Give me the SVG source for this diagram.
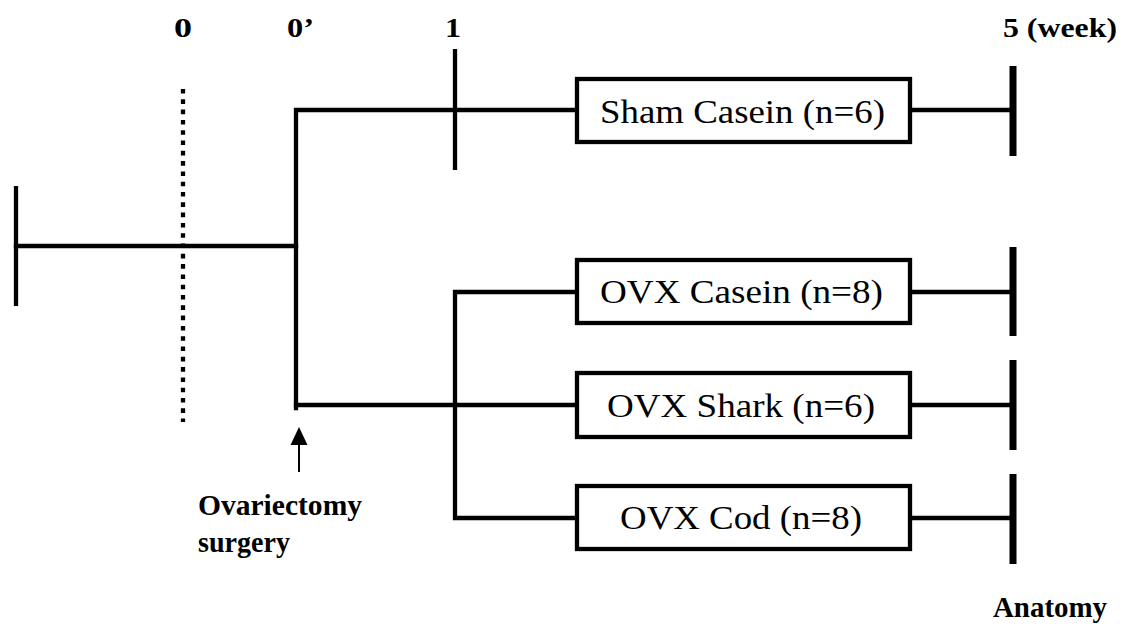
<svg xmlns="http://www.w3.org/2000/svg" width="1126" height="629" viewBox="0 0 1126 629">
  <style>
    .ln { fill: none; stroke: #000; stroke-width: 4.3; stroke-linecap: square; }
    .tick { fill: none; stroke: #000; stroke-width: 4.3; }
    .end { fill: none; stroke: #000; stroke-width: 7; }
    .dot { fill: none; stroke: #000; stroke-width: 4.3; stroke-dasharray: 4.6 5.7; }
    .box { fill: #fff; stroke: #000; stroke-width: 4.3; }
    text { font-family: 'Liberation Serif', 'Times New Roman', Tinos, 'Nimbus Roman', 'DejaVu Serif', serif; fill: #000; }
    .lbl { font-size: 34px; }
    .hd { font-size: 27px; font-weight: bold; }
    .note { font-size: 29px; font-weight: bold; }
  </style>
  <rect width="1126" height="629" fill="#fff"/>

  <!-- time axis labels -->
  <g id="axis-labels">
    <text class="hd" x="174" y="37" textLength="18" lengthAdjust="spacingAndGlyphs">0</text>
    <text class="hd" x="287" y="37" textLength="27" lengthAdjust="spacingAndGlyphs">0’</text>
    <text class="hd" x="445" y="37" textLength="16" lengthAdjust="spacingAndGlyphs">1</text>
    <text class="hd" x="1003" y="37" textLength="114" lengthAdjust="spacingAndGlyphs">5 (week)</text>
  </g>

  <!-- time markers -->
  <g id="markers">
    <line class="tick" x1="16" y1="186" x2="16" y2="306"/>
    <line class="dot" x1="183" y1="89" x2="183" y2="422"/>
    <line class="tick" x1="455" y1="49" x2="455" y2="170"/>
    <line class="end" x1="1013" y1="66" x2="1013" y2="156"/>
    <line class="end" x1="1013" y1="247" x2="1013" y2="336"/>
    <line class="end" x1="1013" y1="360" x2="1013" y2="450"/>
    <line class="end" x1="1013" y1="474" x2="1013" y2="564"/>
  </g>

  <!-- connectors -->
  <g id="connectors">
    <line class="ln" x1="16" y1="246" x2="296" y2="246"/>
    <path class="ln" d="M577,110 H296 V408"/>
    <line class="ln" x1="296" y1="405" x2="577" y2="405"/>
    <path class="ln" d="M577,292 H455 V518 H577"/>
    <line class="ln" x1="910" y1="110" x2="1013" y2="110"/>
    <line class="ln" x1="910" y1="292" x2="1013" y2="292"/>
    <line class="ln" x1="910" y1="405" x2="1013" y2="405"/>
    <line class="ln" x1="910" y1="518" x2="1013" y2="518"/>
  </g>

  <!-- group boxes -->
  <g id="sham-casein">
    <rect class="box" x="577" y="79" width="333" height="63"/>
    <text class="lbl" x="600" y="123" textLength="285" lengthAdjust="spacingAndGlyphs">Sham Casein (n=6)</text>
  </g>
  <g id="ovx-casein">
    <rect class="box" x="577" y="260" width="333" height="63"/>
    <text class="lbl" x="600" y="303" textLength="283" lengthAdjust="spacingAndGlyphs">OVX Casein (n=8)</text>
  </g>
  <g id="ovx-shark">
    <rect class="box" x="577" y="373" width="333" height="64"/>
    <text class="lbl" x="607" y="417" textLength="268" lengthAdjust="spacingAndGlyphs">OVX Shark (n=6)</text>
  </g>
  <g id="ovx-cod">
    <rect class="box" x="577" y="486" width="333" height="63"/>
    <text class="lbl" x="620" y="529" textLength="242" lengthAdjust="spacingAndGlyphs">OVX Cod (n=8)</text>
  </g>

  <!-- surgery annotation -->
  <g id="surgery">
    <line x1="299" y1="443" x2="299" y2="472" stroke="#000" stroke-width="2"/>
    <polygon points="299,427 290.5,445 307.5,445" fill="#000"/>
    <text class="note" x="198" y="515" textLength="164" lengthAdjust="spacingAndGlyphs">Ovariectomy</text>
    <text class="note" x="198" y="552" textLength="92" lengthAdjust="spacingAndGlyphs">surgery</text>
  </g>

  <g id="anatomy">
    <text class="note" x="993" y="617" font-size="30" textLength="114" lengthAdjust="spacingAndGlyphs">Anatomy</text>
  </g>
</svg>
